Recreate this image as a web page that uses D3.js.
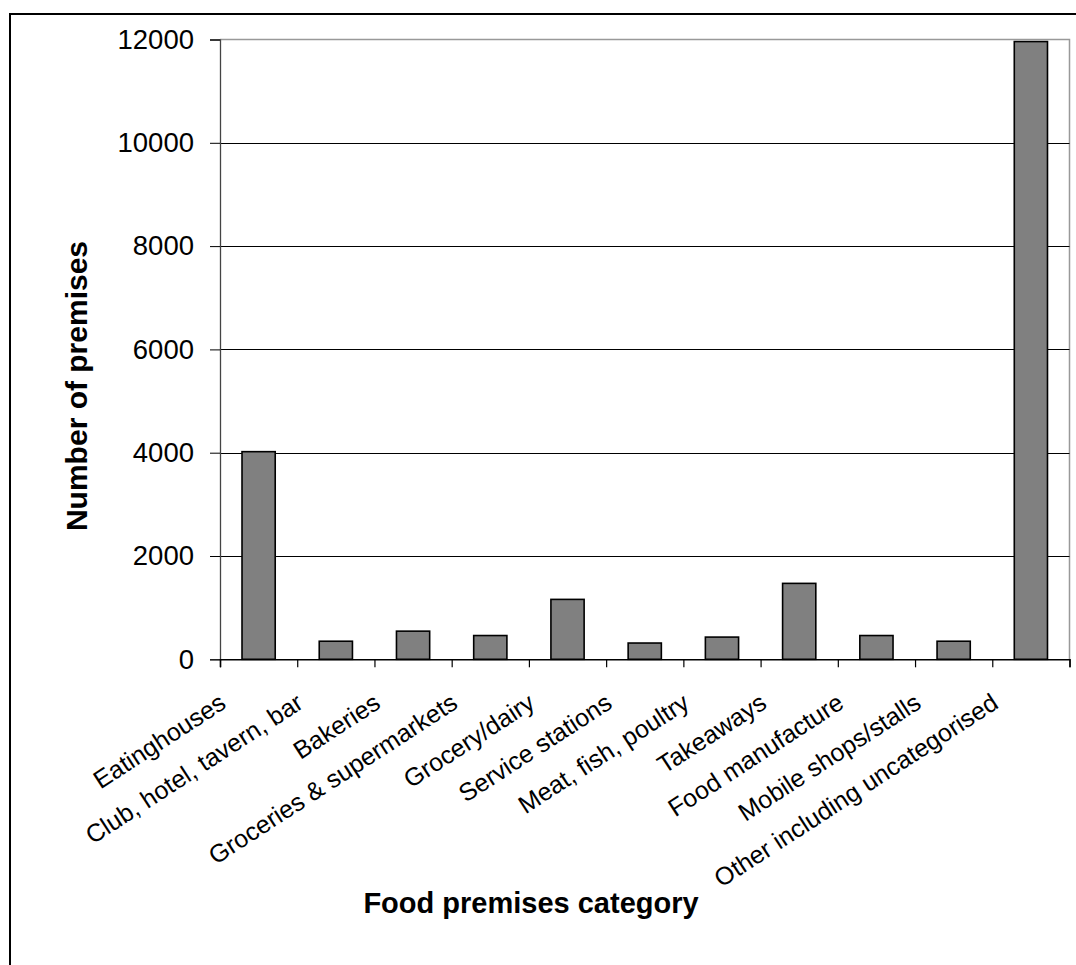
<!DOCTYPE html>
<html>
<head>
<meta charset="utf-8">
<script src="https://cdn.jsdelivr.net/npm/d3@7"></script>
<style>
  html, body { margin: 0; padding: 0; background: #fff; }
  svg { display: block; }
  text { font-family: Arial, "Liberation Sans", sans-serif; fill: #000; }
</style>
</head>
<body>
<svg id="chart" width="1076" height="965"></svg>
<script>
const categories = [
  "Eatinghouses",
  "Club, hotel, tavern, bar",
  "Bakeries",
  "Groceries & supermarkets",
  "Grocery/dairy",
  "Service stations",
  "Meat, fish, poultry",
  "Takeaways",
  "Food manufacture",
  "Mobile shops/stalls",
  "Other including uncategorised"
];
const values = [4020, 350, 545, 460, 1160, 315, 430, 1470, 460, 350, 11960];
const yTicks = [0, 2000, 4000, 6000, 8000, 10000, 12000];
const xTitle = "Food premises category";
const yTitle = "Number of premises";

const svg = d3.select("#chart");
const L = 220, R = 1069.5, T = 39.5, B = 659.3;

// outer border
svg.append("rect").attr("x", 10).attr("y", 14).attr("width", 1200).attr("height", 1200)
  .attr("fill", "none").attr("stroke", "#000").attr("stroke-width", 2);

const y = d3.scaleLinear().domain([0, 12000]).range([B, T]);
const x = d3.scaleBand().domain(categories).range([L, R]).paddingInner(0.57).paddingOuter(0.285);
const xi = d3.scaleLinear().domain([0, categories.length]).range([L, R]);

// plot area top/right border (gray)
svg.append("path").attr("d", `M${L},${T}H${R}V${B}`).attr("fill", "none")
  .attr("stroke", "#999").attr("stroke-width", 1.5);

// gridlines
svg.append("g").selectAll("line").data(yTicks.filter(d => d > 0 && d < 12000)).join("line")
  .attr("x1", L).attr("x2", R).attr("y1", d => Math.round(y(d)) + 0.5).attr("y2", d => Math.round(y(d)) + 0.5)
  .attr("stroke", "#000").attr("stroke-width", 1);

// bars
svg.append("g").selectAll("rect").data(values).join("rect")
  .attr("x", (d, i) => x(categories[i]))
  .attr("width", x.bandwidth())
  .attr("y", d => y(d))
  .attr("height", d => B - y(d))
  .attr("fill", "#808080").attr("stroke", "#000").attr("stroke-width", 1.6);

// y axis
const yAxis = svg.append("g").attr("transform", `translate(${L},0)`)
  .call(d3.axisLeft(y).tickValues(yTicks).tickSize(10).tickPadding(16).tickFormat(d3.format("d")));
yAxis.select(".domain").attr("stroke", "#444").attr("stroke-width", 1.3);
yAxis.selectAll(".tick line").attr("stroke", "#000");
yAxis.selectAll("text").style("font-size", "27.5px").attr("font-family", null);

// x axis
const xAxis = svg.append("g").attr("transform", `translate(0,${B})`)
  .call(d3.axisBottom(xi).tickValues(d3.range(categories.length + 1)).tickSize(8).tickFormat(""));
xAxis.select(".domain").attr("stroke", "#000").attr("stroke-width", 1.5);
xAxis.selectAll(".tick line").attr("stroke", "#000").attr("stroke-width", 1.2);

// category labels
svg.append("g").selectAll("text").data(categories).join("text")
  .attr("transform", d => `translate(${x(d) + x.bandwidth() / 2 - 31},${707}) rotate(-33)`)
  .attr("text-anchor", "end")
  .style("font-size", "25px")
  .text(d => d);

// titles
svg.append("text").attr("x", 531).attr("y", 913).attr("text-anchor", "middle")
  .style("font-size", "29px").style("font-weight", "bold").text(xTitle);
svg.append("text").attr("transform", "translate(87,386) rotate(-90)").attr("text-anchor", "middle")
  .style("font-size", "30px").style("font-weight", "bold").text(yTitle);
</script>
</body>
</html>
